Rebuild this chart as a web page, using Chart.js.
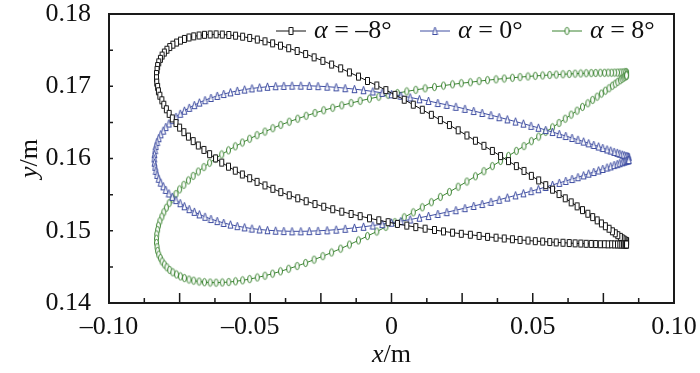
<!DOCTYPE html>
<html>
<head>
<meta charset="utf-8">
<script src="https://cdn.jsdelivr.net/npm/chart.js@4.4.1/dist/chart.umd.min.js"></script>
<style>
  html, body { margin: 0; padding: 0; background: #fff; }
  canvas { display: block; }
</style>
</head>
<body>
<canvas id="foilChart" width="700" height="373"></canvas>
<script>
// series labels
const seriesNames = ["\u20138\u00b0", "0\u00b0", "8\u00b0"];

// alpha = -8 deg, leading edge -> trailing edge
const xUpperNeg8 = [-0.0832, -0.0830, -0.0828, -0.0824, -0.0818, -0.0812, -0.0804, -0.0795, -0.0785, -0.0774, -0.0761, -0.0747, -0.0733, -0.0717, -0.0700, -0.0681, -0.0662, -0.0642, -0.0621, -0.0599, -0.0576, -0.0552, -0.0527, -0.0502, -0.0475, -0.0448, -0.0421, -0.0393, -0.0364, -0.0334, -0.0304, -0.0274, -0.0243, -0.0212, -0.0180, -0.0149, -0.0117, -0.0085, -0.0052, -0.0020, 0.0012, 0.0045, 0.0077, 0.0109, 0.0141, 0.0173, 0.0205, 0.0236, 0.0267, 0.0297, 0.0327, 0.0357, 0.0386, 0.0414, 0.0442, 0.0469, 0.0495, 0.0521, 0.0546, 0.0570, 0.0593, 0.0615, 0.0636, 0.0657, 0.0676, 0.0695, 0.0712, 0.0728, 0.0743, 0.0757, 0.0770, 0.0782, 0.0792, 0.0801, 0.0810, 0.0816, 0.0822, 0.0826, 0.0830, 0.0832, 0.0832];
const yUpperNeg8 = [0.17169, 0.17226, 0.17280, 0.17331, 0.17379, 0.17425, 0.17467, 0.17506, 0.17543, 0.17576, 0.17605, 0.17632, 0.17655, 0.17675, 0.17691, 0.17703, 0.17712, 0.17717, 0.17718, 0.17716, 0.17710, 0.17700, 0.17686, 0.17669, 0.17647, 0.17622, 0.17594, 0.17562, 0.17526, 0.17488, 0.17446, 0.17400, 0.17352, 0.17301, 0.17248, 0.17192, 0.17134, 0.17073, 0.17011, 0.16947, 0.16881, 0.16814, 0.16745, 0.16675, 0.16605, 0.16532, 0.16463, 0.16391, 0.16319, 0.16246, 0.16176, 0.16105, 0.16034, 0.15964, 0.15895, 0.15828, 0.15760, 0.15697, 0.15631, 0.15569, 0.15508, 0.15449, 0.15393, 0.15338, 0.15286, 0.15236, 0.15189, 0.15144, 0.15102, 0.15063, 0.15028, 0.14993, 0.14965, 0.14939, 0.14916, 0.14897, 0.14881, 0.14869, 0.14859, 0.14855, 0.14852];
const xLowerNeg8 = [-0.0832, -0.0832, -0.0831, -0.0828, -0.0825, -0.0820, -0.0813, -0.0806, -0.0797, -0.0787, -0.0776, -0.0763, -0.0750, -0.0735, -0.0719, -0.0702, -0.0684, -0.0664, -0.0644, -0.0623, -0.0601, -0.0577, -0.0553, -0.0528, -0.0502, -0.0476, -0.0448, -0.0420, -0.0392, -0.0362, -0.0332, -0.0302, -0.0271, -0.0240, -0.0208, -0.0176, -0.0143, -0.0111, -0.0078, -0.0045, -0.0012, 0.0021, 0.0054, 0.0086, 0.0119, 0.0152, 0.0184, 0.0216, 0.0247, 0.0279, 0.0310, 0.0340, 0.0370, 0.0399, 0.0428, 0.0455, 0.0483, 0.0509, 0.0535, 0.0560, 0.0583, 0.0607, 0.0629, 0.0650, 0.0670, 0.0689, 0.0707, 0.0723, 0.0739, 0.0754, 0.0767, 0.0779, 0.0790, 0.0800, 0.0808, 0.0815, 0.0821, 0.0826, 0.0829, 0.0831, 0.0832];
const yLowerNeg8 = [0.17169, 0.17111, 0.17051, 0.16991, 0.16930, 0.16869, 0.16806, 0.16744, 0.16681, 0.16618, 0.16555, 0.16491, 0.16428, 0.16365, 0.16303, 0.16241, 0.16180, 0.16119, 0.16060, 0.16001, 0.15943, 0.15887, 0.15832, 0.15779, 0.15727, 0.15677, 0.15628, 0.15581, 0.15535, 0.15491, 0.15449, 0.15409, 0.15370, 0.15333, 0.15298, 0.15264, 0.15232, 0.15202, 0.15173, 0.15145, 0.15119, 0.15095, 0.15071, 0.15051, 0.15029, 0.15011, 0.14991, 0.14974, 0.14958, 0.14945, 0.14929, 0.14916, 0.14904, 0.14893, 0.14883, 0.14873, 0.14865, 0.14856, 0.14851, 0.14844, 0.14839, 0.14834, 0.14830, 0.14826, 0.14823, 0.14820, 0.14818, 0.14816, 0.14814, 0.14814, 0.14812, 0.14813, 0.14811, 0.14811, 0.14810, 0.14810, 0.14810, 0.14809, 0.14810, 0.14808, 0.14810];

// alpha = 0 deg
const xSurf0 = [-0.0840, -0.0839, -0.0837, -0.0834, -0.0830, -0.0824, -0.0817, -0.0808, -0.0799, -0.0788, -0.0776, -0.0763, -0.0748, -0.0733, -0.0716, -0.0698, -0.0680, -0.0660, -0.0639, -0.0617, -0.0594, -0.0570, -0.0546, -0.0520, -0.0494, -0.0467, -0.0439, -0.0410, -0.0381, -0.0352, -0.0321, -0.0291, -0.0260, -0.0228, -0.0196, -0.0164, -0.0131, -0.0099, -0.0066, -0.0033, 0.0000, 0.0033, 0.0066, 0.0099, 0.0131, 0.0164, 0.0196, 0.0228, 0.0260, 0.0291, 0.0321, 0.0352, 0.0381, 0.0410, 0.0439, 0.0467, 0.0494, 0.0520, 0.0546, 0.0570, 0.0594, 0.0617, 0.0639, 0.0660, 0.0680, 0.0698, 0.0716, 0.0733, 0.0748, 0.0763, 0.0776, 0.0788, 0.0799, 0.0808, 0.0817, 0.0824, 0.0830, 0.0834, 0.0837, 0.0839, 0.0840];
const yUpper0 = [0.16000, 0.16058, 0.16115, 0.16172, 0.16227, 0.16281, 0.16334, 0.16385, 0.16435, 0.16484, 0.16531, 0.16576, 0.16619, 0.16661, 0.16701, 0.16738, 0.16774, 0.16807, 0.16838, 0.16866, 0.16892, 0.16915, 0.16936, 0.16954, 0.16970, 0.16982, 0.16993, 0.17000, 0.17005, 0.17008, 0.17008, 0.17006, 0.17001, 0.16994, 0.16985, 0.16973, 0.16960, 0.16945, 0.16928, 0.16909, 0.16889, 0.16868, 0.16845, 0.16820, 0.16796, 0.16768, 0.16743, 0.16716, 0.16687, 0.16657, 0.16630, 0.16600, 0.16571, 0.16541, 0.16511, 0.16482, 0.16452, 0.16425, 0.16394, 0.16366, 0.16338, 0.16311, 0.16284, 0.16259, 0.16234, 0.16210, 0.16187, 0.16166, 0.16145, 0.16125, 0.16109, 0.16091, 0.16078, 0.16065, 0.16053, 0.16044, 0.16036, 0.16030, 0.16025, 0.16024, 0.16021];
const yLower0 = [0.16000, 0.15942, 0.15885, 0.15828, 0.15773, 0.15719, 0.15666, 0.15615, 0.15565, 0.15516, 0.15469, 0.15424, 0.15381, 0.15339, 0.15299, 0.15262, 0.15226, 0.15193, 0.15162, 0.15134, 0.15108, 0.15085, 0.15064, 0.15046, 0.15030, 0.15018, 0.15007, 0.15000, 0.14995, 0.14992, 0.14992, 0.14994, 0.14999, 0.15006, 0.15015, 0.15027, 0.15040, 0.15055, 0.15072, 0.15091, 0.15111, 0.15132, 0.15155, 0.15180, 0.15204, 0.15232, 0.15257, 0.15284, 0.15313, 0.15343, 0.15370, 0.15400, 0.15429, 0.15459, 0.15489, 0.15518, 0.15548, 0.15575, 0.15606, 0.15634, 0.15662, 0.15689, 0.15716, 0.15741, 0.15766, 0.15790, 0.15813, 0.15834, 0.15855, 0.15875, 0.15891, 0.15909, 0.15922, 0.15935, 0.15947, 0.15956, 0.15964, 0.15970, 0.15975, 0.15976, 0.15979];

// alpha = 8 deg
const xUpper8 = [-0.0832, -0.0832, -0.0831, -0.0828, -0.0825, -0.0820, -0.0813, -0.0806, -0.0797, -0.0787, -0.0776, -0.0763, -0.0750, -0.0735, -0.0719, -0.0702, -0.0684, -0.0664, -0.0644, -0.0623, -0.0601, -0.0577, -0.0553, -0.0528, -0.0502, -0.0476, -0.0448, -0.0420, -0.0392, -0.0362, -0.0332, -0.0302, -0.0271, -0.0240, -0.0208, -0.0176, -0.0143, -0.0111, -0.0078, -0.0045, -0.0012, 0.0021, 0.0054, 0.0086, 0.0119, 0.0152, 0.0184, 0.0216, 0.0247, 0.0279, 0.0310, 0.0340, 0.0370, 0.0399, 0.0428, 0.0455, 0.0483, 0.0509, 0.0535, 0.0560, 0.0583, 0.0607, 0.0629, 0.0650, 0.0670, 0.0689, 0.0707, 0.0723, 0.0739, 0.0754, 0.0767, 0.0779, 0.0790, 0.0800, 0.0808, 0.0815, 0.0821, 0.0826, 0.0829, 0.0831, 0.0832];
const yUpper8 = [0.14831, 0.14890, 0.14949, 0.15009, 0.15070, 0.15131, 0.15194, 0.15256, 0.15319, 0.15382, 0.15445, 0.15509, 0.15572, 0.15635, 0.15697, 0.15759, 0.15820, 0.15881, 0.15941, 0.15999, 0.16057, 0.16113, 0.16168, 0.16221, 0.16273, 0.16323, 0.16372, 0.16419, 0.16465, 0.16509, 0.16551, 0.16591, 0.16630, 0.16667, 0.16702, 0.16736, 0.16768, 0.16798, 0.16827, 0.16855, 0.16881, 0.16905, 0.16929, 0.16950, 0.16971, 0.16989, 0.17009, 0.17026, 0.17042, 0.17055, 0.17071, 0.17084, 0.17096, 0.17107, 0.17117, 0.17127, 0.17135, 0.17144, 0.17149, 0.17156, 0.17161, 0.17166, 0.17170, 0.17174, 0.17177, 0.17180, 0.17182, 0.17184, 0.17186, 0.17186, 0.17188, 0.17187, 0.17189, 0.17189, 0.17190, 0.17190, 0.17190, 0.17191, 0.17190, 0.17192, 0.17190];
const xLower8 = [-0.0832, -0.0830, -0.0828, -0.0824, -0.0818, -0.0812, -0.0804, -0.0795, -0.0785, -0.0774, -0.0761, -0.0747, -0.0733, -0.0717, -0.0700, -0.0681, -0.0662, -0.0642, -0.0621, -0.0599, -0.0576, -0.0552, -0.0527, -0.0502, -0.0475, -0.0448, -0.0421, -0.0393, -0.0364, -0.0334, -0.0304, -0.0274, -0.0243, -0.0212, -0.0180, -0.0149, -0.0117, -0.0085, -0.0052, -0.0020, 0.0012, 0.0045, 0.0077, 0.0109, 0.0141, 0.0173, 0.0205, 0.0236, 0.0267, 0.0297, 0.0327, 0.0357, 0.0386, 0.0414, 0.0442, 0.0469, 0.0495, 0.0521, 0.0546, 0.0570, 0.0593, 0.0615, 0.0636, 0.0657, 0.0676, 0.0695, 0.0712, 0.0728, 0.0743, 0.0757, 0.0770, 0.0782, 0.0792, 0.0801, 0.0810, 0.0816, 0.0822, 0.0826, 0.0830, 0.0832, 0.0832];
const yLower8 = [0.14831, 0.14774, 0.14720, 0.14669, 0.14621, 0.14575, 0.14533, 0.14494, 0.14457, 0.14424, 0.14395, 0.14368, 0.14345, 0.14325, 0.14309, 0.14297, 0.14288, 0.14283, 0.14282, 0.14284, 0.14290, 0.14300, 0.14314, 0.14331, 0.14353, 0.14378, 0.14406, 0.14438, 0.14474, 0.14512, 0.14554, 0.14600, 0.14648, 0.14699, 0.14752, 0.14808, 0.14866, 0.14927, 0.14989, 0.15053, 0.15119, 0.15186, 0.15255, 0.15325, 0.15395, 0.15468, 0.15537, 0.15609, 0.15681, 0.15754, 0.15824, 0.15895, 0.15966, 0.16036, 0.16105, 0.16172, 0.16240, 0.16303, 0.16369, 0.16431, 0.16492, 0.16551, 0.16607, 0.16662, 0.16714, 0.16764, 0.16811, 0.16856, 0.16898, 0.16938, 0.16972, 0.17007, 0.17035, 0.17061, 0.17084, 0.17103, 0.17119, 0.17131, 0.17140, 0.17145, 0.17150];

// ticks
const xTicks = [-0.1, -0.0875, -0.075, -0.0625, -0.05, -0.0375, -0.025, -0.0125, 0, 0.0125, 0.025, 0.0375, 0.05, 0.0625, 0.075, 0.0875, 0.1];
const xTickLabels = ["\u20130.10", "", "", "", "\u20130.05", "", "", "", "0", "", "", "", "0.05", "", "", "", "0.10"];
const yTicks = [0.14, 0.145, 0.15, 0.155, 0.16, 0.165, 0.17, 0.175, 0.18];
const yTickLabels = ["0.14", "", "0.15", "", "0.16", "", "0.17", "", "0.18"];

const FONT = "'Liberation Serif', 'Times New Roman', serif";
const FSIZE = 26;
const colors = ["#111111", "#3f4ea2", "#3a8330"];

// closed loop: upper surface TE -> LE, then lower surface LE -> TE
function loop(xu, yu, xl, yl) {
  const pts = [];
  for (let i = xu.length - 1; i >= 0; i--) pts.push({ x: xu[i], y: yu[i] });
  for (let i = 1; i < xl.length; i++) pts.push({ x: xl[i], y: yl[i] });
  return pts;
}

// small hollow markers, a bit taller than wide like the original
function marker(shape, color) {
  const c = document.createElement("canvas");
  c.width = 7; c.height = 10;
  const g = c.getContext("2d");
  g.strokeStyle = color;
  g.fillStyle = "#fff";
  g.lineWidth = 1;
  g.beginPath();
  if (shape === "rect") {
    g.rect(1.5, 1.5, 4, 7);
  } else if (shape === "tri") {
    g.moveTo(3.5, 1); g.lineTo(6, 8.5); g.lineTo(1, 8.5); g.closePath();
  } else {
    g.ellipse(3.5, 5, 2, 3.6, 0, 0, Math.PI * 2);
  }
  g.fill();
  g.stroke();
  return c;
}

const markers = [marker("rect", colors[0]), marker("tri", colors[1]), marker("ellipse", colors[2])];

const frameTicks = {
  id: "frameTicks",
  afterDraw(chart) {
    const { ctx, chartArea: a, scales } = chart;
    ctx.save();
    ctx.strokeStyle = "#1a1a1a";
    ctx.lineWidth = 1.5;
    ctx.beginPath();
    scales.x.ticks.forEach((t, i) => {
      const px = scales.x.getPixelForValue(t.value);
      const len = i % 2 === 0 ? 10 : 5;
      ctx.moveTo(px, a.bottom);
      ctx.lineTo(px, a.bottom - len);
    });
    scales.y.ticks.forEach((t) => {
      const py = scales.y.getPixelForValue(t.value);
      ctx.moveTo(a.left, py);
      ctx.lineTo(a.left + 4, py);
    });
    ctx.stroke();
    ctx.lineWidth = 2;
    ctx.strokeRect(a.left, a.top, a.right - a.left, a.bottom - a.top);

    // axis titles: italic symbol + upright unit
    ctx.fillStyle = "#111";
    ctx.textBaseline = "middle";
    ctx.textAlign = "left";
    function mixed(sym, unit, cx, cy) {
      ctx.font = "italic " + FSIZE + "px " + FONT;
      const w1 = ctx.measureText(sym).width;
      ctx.font = FSIZE + "px " + FONT;
      const w2 = ctx.measureText(unit).width;
      const x0 = cx - (w1 + w2) / 2;
      ctx.font = "italic " + FSIZE + "px " + FONT;
      ctx.fillText(sym, x0, cy);
      ctx.font = FSIZE + "px " + FONT;
      ctx.fillText(unit, x0 + w1, cy);
    }
    mixed("x", "/m", (a.left + a.right) / 2, 355);
    ctx.save();
    ctx.translate(30, (a.top + a.bottom) / 2);
    ctx.rotate(-Math.PI / 2);
    mixed("y", "/m", 0, 0);
    ctx.restore();

    // legend inside the plot
    const startX = [276, 420, 552];
    const ly = 31;
    chart.data.datasets.forEach((ds, i) => {
      const x0 = startX[i];
      ctx.strokeStyle = ds.borderColor;
      ctx.lineWidth = 1;
      ctx.beginPath();
      ctx.moveTo(x0, ly);
      ctx.lineTo(x0 + 30, ly);
      ctx.stroke();
      const m = markers[i];
      ctx.drawImage(m, x0 + 15 - m.width / 2, ly - m.height / 2);
      ctx.fillStyle = "#111";
      ctx.font = "italic " + FSIZE + "px " + FONT;
      ctx.fillText("\u03b1", x0 + 38, ly);
      const wa = ctx.measureText("\u03b1").width;
      ctx.font = FSIZE + "px " + FONT;
      ctx.fillText(" = " + seriesNames[i], x0 + 38 + wa, ly);
    });
    ctx.restore();
  }
};

const ctx = document.getElementById("foilChart").getContext("2d");
new Chart(ctx, {
  type: "scatter",
  data: {
    datasets: [
      { label: seriesNames[0], data: loop(xUpperNeg8, yUpperNeg8, xLowerNeg8, yLowerNeg8) },
      { label: seriesNames[1], data: loop(xSurf0, yUpper0, xSurf0, yLower0) },
      { label: seriesNames[2], data: loop(xUpper8, yUpper8, xLower8, yLower8) },
    ].map((ds, i) => Object.assign(ds, {
      showLine: true,
      borderColor: colors[i],
      backgroundColor: "#fff",
      borderWidth: 1,
      pointStyle: markers[i],
      pointRadius: 4,
      tension: 0,
    })),
  },
  options: {
    responsive: false,
    animation: false,
    layout: { padding: { left: 0, right: 26, top: 14, bottom: 0 } },
    plugins: { legend: { display: false }, tooltip: { enabled: false } },
    scales: {
      x: {
        type: "linear",
        min: -0.1,
        max: 0.1,
        afterBuildTicks(scale) { scale.ticks = xTicks.map((v) => ({ value: v })); },
        afterFit(scale) {
          scale.height = 70;
          scale.paddingLeft = 0;
          scale.paddingRight = 0;
        },
        grid: { display: false },
        border: { display: false },
        ticks: {
          autoSkip: false,
          maxRotation: 0,
          padding: 1,
          color: "#111",
          font: { family: FONT, size: FSIZE },
          callback: (v, i) => xTickLabels[i],
        },
      },
      y: {
        type: "linear",
        min: 0.14,
        max: 0.18,
        afterBuildTicks(scale) { scale.ticks = yTicks.map((v) => ({ value: v })); },
        afterFit(scale) {
          scale.width = 109;
          scale.paddingTop = 0;
          scale.paddingBottom = 0;
        },
        grid: { display: false },
        border: { display: false },
        ticks: {
          autoSkip: false,
          padding: 10,
          color: "#111",
          font: { family: FONT, size: FSIZE },
          callback: (v, i) => yTickLabels[i],
        },
      },
    },
  },
  plugins: [frameTicks],
});
</script>
</body>
</html>
